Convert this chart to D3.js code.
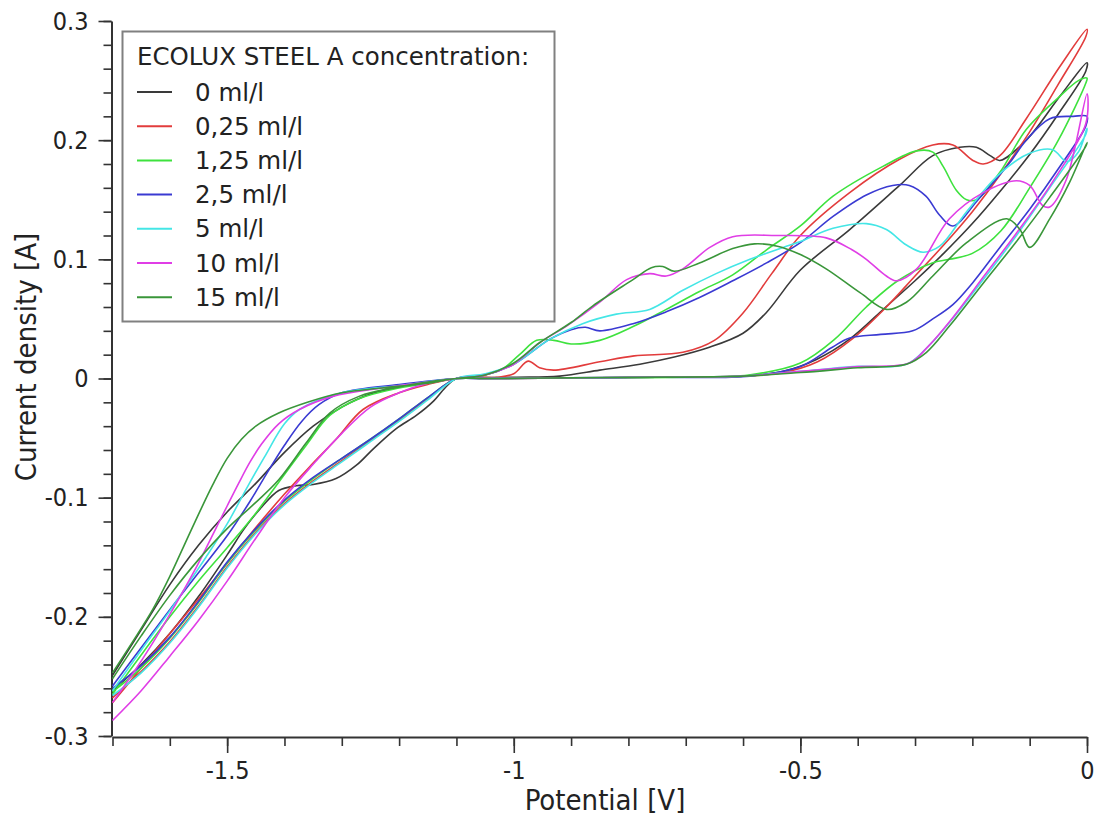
<!DOCTYPE html>
<html>
<head>
<meta charset="utf-8">
<script src="https://cdn.jsdelivr.net/npm/d3@7"></script>
<style>
  body { margin: 0; background: #fff; }
  .tick text { fill: #222; }
</style>
</head>
<body>
<svg id="chart" width="1098" height="819"></svg>
<script>
// =============================
// DATA
// =============================
var seriesNames = ["0 ml/l", "0,25 ml/l", "1,25 ml/l", "2,5 ml/l", "5 ml/l", "10 ml/l", "15 ml/l"];
var seriesColors = ["#3a3a3a", "#e23c3c", "#3ee23e", "#3a3ad2", "#44e6e6", "#e03ee6", "#3a963a"];
var legendTitle = "ECOLUX STEEL A concentration:";

var xTicks = [-1.5, -1, -0.5, 0];
var xTickLabels = ["-1.5", "-1", "-0.5", "0"];
var yTicks = [0.3, 0.2, 0.1, 0, -0.1, -0.2, -0.3];
var yTickLabels = ["0.3", "0.2", "0.1", "0", "-0.1", "-0.2", "-0.3"];

// each loop: [potential (V), current density (A)], whole cycle in scan order
var loop0 = [
  [-1.7,-0.249],[-1.65,-0.211],[-1.6,-0.173],[-1.55,-0.14],[-1.5,-0.112],[-1.45,-0.088],[-1.4,-0.062],[-1.35,-0.04],[-1.3,-0.024],[-1.25,-0.013],[-1.2,-0.007],[-1.15,-0.003],[-1.1,0],
  [-1.0,0.001],[-0.92,0.002],[-0.85,0.007],[-0.78,0.012],[-0.72,0.018],[-0.66,0.026],[-0.6,0.038],[-0.56,0.055],[-0.5,0.091],[-0.414,0.125],[-0.327,0.162],[-0.269,0.187],[-0.222,0.194],[-0.193,0.194],[-0.169,0.187],[-0.152,0.183],[-0.106,0.2],[-0.047,0.237],[0,0.265],
  [-0.002,0.258],[-0.05,0.222],[-0.1,0.188],[-0.15,0.158],[-0.2,0.13],[-0.25,0.105],[-0.3,0.082],[-0.351,0.06],[-0.414,0.033],[-0.472,0.016],[-0.53,0.006],[-0.6,0.002],[-0.75,0.001],[-0.9,0.0005],[-1.05,0],
  [-1.1,0],[-1.12,-0.008],[-1.14,-0.019],[-1.17,-0.031],[-1.205,-0.042],[-1.245,-0.059],[-1.275,-0.073],[-1.31,-0.084],[-1.35,-0.089],[-1.38,-0.09],[-1.41,-0.094],[-1.44,-0.108],[-1.47,-0.126],[-1.5,-0.148],[-1.55,-0.183],[-1.6,-0.214],[-1.65,-0.24],[-1.7,-0.262]
];
var loop1 = [
  [-1.7,-0.268],[-1.65,-0.246],[-1.6,-0.221],[-1.55,-0.191],[-1.5,-0.158],[-1.45,-0.129],[-1.4,-0.105],[-1.35,-0.086],[-1.3,-0.069],[-1.25,-0.052],[-1.2,-0.035],[-1.15,-0.017],[-1.1,0],
  [-1.03,0.001],[-1.0,0.004],[-0.975,0.0146],[-0.955,0.009],[-0.93,0.007],[-0.85,0.014],[-0.79,0.019],[-0.705,0.022],[-0.65,0.032],[-0.6,0.055],[-0.55,0.088],[-0.5,0.12],[-0.414,0.156],[-0.327,0.184],[-0.269,0.196],[-0.234,0.196],[-0.199,0.183],[-0.181,0.18],[-0.152,0.187],[-0.106,0.218],[-0.047,0.262],[0,0.293],
  [-0.002,0.287],[-0.05,0.247],[-0.1,0.207],[-0.15,0.172],[-0.2,0.14],[-0.25,0.112],[-0.3,0.086],[-0.35,0.06],[-0.41,0.033],[-0.47,0.014],[-0.53,0.005],[-0.6,0.002],[-0.75,0.001],[-0.9,0.0005],[-1.05,0],
  [-1.1,0],[-1.15,-0.005],[-1.2,-0.012],[-1.263,-0.026],[-1.31,-0.051],[-1.356,-0.074],[-1.4,-0.097],[-1.45,-0.125],[-1.5,-0.155],[-1.55,-0.185],[-1.6,-0.214],[-1.65,-0.243],[-1.7,-0.272]
];
var loop2 = [
  [-1.7,-0.263],[-1.65,-0.243],[-1.6,-0.218],[-1.55,-0.188],[-1.5,-0.155],[-1.45,-0.127],[-1.4,-0.103],[-1.35,-0.084],[-1.3,-0.067],[-1.25,-0.051],[-1.2,-0.034],[-1.15,-0.016],[-1.1,0],
  [-1.06,0.002],[-1.02,0.008],[-0.99,0.02],[-0.96,0.032],[-0.93,0.032],[-0.9,0.029],[-0.85,0.032],[-0.79,0.044],[-0.734,0.058],[-0.676,0.073],[-0.618,0.087],[-0.559,0.108],[-0.5,0.128],[-0.443,0.153],[-0.356,0.178],[-0.297,0.191],[-0.269,0.19],[-0.251,0.178],[-0.228,0.158],[-0.21,0.15],[-0.193,0.15],[-0.152,0.173],[-0.106,0.209],[-0.047,0.237],[-0.015,0.25],[0,0.252],
  [-0.002,0.248],[-0.05,0.2],[-0.1,0.16],[-0.15,0.124],[-0.2,0.105],[-0.24,0.1],[-0.27,0.097],[-0.33,0.082],[-0.385,0.06],[-0.44,0.033],[-0.5,0.013],[-0.59,0.003],[-0.7,0.001],[-0.9,0.0005],[-1.05,0],
  [-1.1,0],[-1.15,-0.004],[-1.2,-0.008],[-1.27,-0.017],[-1.321,-0.031],[-1.362,-0.056],[-1.41,-0.087],[-1.45,-0.113],[-1.5,-0.142],[-1.55,-0.17],[-1.6,-0.2],[-1.65,-0.232],[-1.7,-0.265]
];
var loop3 = [
  [-1.7,-0.26],[-1.65,-0.241],[-1.6,-0.217],[-1.55,-0.187],[-1.5,-0.154],[-1.45,-0.126],[-1.4,-0.102],[-1.35,-0.083],[-1.3,-0.067],[-1.25,-0.051],[-1.2,-0.034],[-1.15,-0.016],[-1.1,0],
  [-1.05,0.003],[-1.0,0.012],[-0.937,0.033],[-0.9,0.041],[-0.875,0.043],[-0.85,0.04],[-0.792,0.046],[-0.734,0.056],[-0.676,0.068],[-0.618,0.082],[-0.559,0.097],[-0.5,0.114],[-0.443,0.136],[-0.385,0.154],[-0.339,0.162],[-0.31,0.162],[-0.281,0.153],[-0.257,0.137],[-0.234,0.128],[-0.19,0.15],[-0.135,0.181],[-0.106,0.2],[-0.065,0.218],[-0.024,0.22],[0,0.22],
  [-0.002,0.212],[-0.05,0.176],[-0.1,0.142],[-0.152,0.11],[-0.2,0.08],[-0.234,0.062],[-0.269,0.05],[-0.304,0.04],[-0.36,0.037],[-0.414,0.034],[-0.445,0.026],[-0.5,0.01],[-0.588,0.002],[-0.75,0.001],[-0.9,0.0005],[-1.05,0],
  [-1.1,0],[-1.2,-0.005],[-1.3,-0.012],[-1.34,-0.022],[-1.37,-0.036],[-1.4,-0.056],[-1.43,-0.079],[-1.46,-0.103],[-1.5,-0.132],[-1.55,-0.163],[-1.6,-0.194],[-1.65,-0.226],[-1.7,-0.258]
];
var loop4 = [
  [-1.7,-0.266],[-1.65,-0.247],[-1.6,-0.222],[-1.55,-0.192],[-1.5,-0.159],[-1.45,-0.13],[-1.4,-0.106],[-1.35,-0.087],[-1.3,-0.07],[-1.25,-0.053],[-1.2,-0.036],[-1.15,-0.018],[-1.1,0],
  [-1.05,0.004],[-1.0,0.012],[-0.937,0.033],[-0.88,0.046],[-0.821,0.054],[-0.763,0.058],[-0.705,0.074],[-0.647,0.088],[-0.588,0.1],[-0.53,0.11],[-0.5,0.115],[-0.443,0.126],[-0.385,0.13],[-0.35,0.125],[-0.315,0.112],[-0.286,0.106],[-0.257,0.111],[-0.21,0.14],[-0.152,0.172],[-0.1,0.189],[-0.06,0.192],[-0.035,0.182],[-0.015,0.19],[0,0.21],
  [-0.002,0.205],[-0.065,0.16],[-0.123,0.12],[-0.181,0.083],[-0.24,0.047],[-0.281,0.025],[-0.315,0.012],[-0.408,0.01],[-0.5,0.006],[-0.6,0.002],[-0.8,0.001],[-1.05,0],
  [-1.1,0],[-1.2,-0.006],[-1.3,-0.012],[-1.374,-0.026],[-1.4,-0.038],[-1.435,-0.066],[-1.467,-0.093],[-1.5,-0.122],[-1.537,-0.15],[-1.565,-0.17],[-1.6,-0.195],[-1.65,-0.228],[-1.7,-0.262]
];
var loop5 = [
  [-1.7,-0.287],[-1.65,-0.262],[-1.6,-0.233],[-1.55,-0.203],[-1.5,-0.17],[-1.45,-0.134],[-1.4,-0.1],[-1.35,-0.072],[-1.3,-0.046],[-1.25,-0.024],[-1.2,-0.012],[-1.15,-0.004],[-1.1,0],
  [-1.05,0.003],[-1.0,0.012],[-0.955,0.03],[-0.908,0.044],[-0.85,0.064],[-0.803,0.083],[-0.763,0.088],[-0.734,0.086],[-0.705,0.092],[-0.658,0.11],[-0.618,0.119],[-0.542,0.12],[-0.455,0.118],[-0.41,0.108],[-0.385,0.1],[-0.35,0.086],[-0.332,0.082],[-0.297,0.092],[-0.24,0.134],[-0.181,0.156],[-0.123,0.166],[-0.1,0.162],[-0.077,0.145],[-0.065,0.144],[-0.036,0.167],[0,0.239],
  [-0.002,0.214],[-0.06,0.165],[-0.12,0.124],[-0.178,0.087],[-0.236,0.05],[-0.277,0.027],[-0.31,0.013],[-0.4,0.01],[-0.5,0.006],[-0.6,0.002],[-0.8,0.001],[-1.05,0],
  [-1.1,0],[-1.15,-0.003],[-1.23,-0.008],[-1.316,-0.015],[-1.374,-0.026],[-1.41,-0.038],[-1.44,-0.055],[-1.46,-0.07],[-1.48,-0.088],[-1.5,-0.107],[-1.525,-0.131],[-1.55,-0.155],[-1.575,-0.177],[-1.6,-0.198],[-1.63,-0.222],[-1.665,-0.248],[-1.7,-0.272]
];
var loop6 = [
  [-1.7,-0.252],[-1.65,-0.216],[-1.6,-0.182],[-1.55,-0.152],[-1.5,-0.126],[-1.45,-0.104],[-1.41,-0.085],[-1.362,-0.054],[-1.321,-0.029],[-1.27,-0.015],[-1.2,-0.007],[-1.15,-0.003],[-1.1,0],
  [-1.05,0.003],[-1.0,0.013],[-0.955,0.03],[-0.9,0.047],[-0.862,0.061],[-0.792,0.083],[-0.76,0.093],[-0.74,0.094],[-0.72,0.09],[-0.676,0.097],[-0.618,0.109],[-0.58,0.113],[-0.54,0.111],[-0.5,0.104],[-0.455,0.092],[-0.396,0.072],[-0.35,0.058],[-0.315,0.064],[-0.269,0.086],[-0.21,0.114],[-0.14,0.134],[-0.117,0.125],[-0.1,0.11],[-0.065,0.134],[-0.03,0.165],[0,0.198],
  [-0.002,0.195],[-0.065,0.152],[-0.123,0.115],[-0.181,0.08],[-0.24,0.044],[-0.28,0.022],[-0.315,0.012],[-0.4,0.009],[-0.5,0.005],[-0.6,0.002],[-0.8,0.001],[-1.05,0],
  [-1.1,0],[-1.15,-0.004],[-1.23,-0.008],[-1.3,-0.012],[-1.36,-0.02],[-1.41,-0.029],[-1.45,-0.04],[-1.475,-0.051],[-1.5,-0.067],[-1.525,-0.089],[-1.55,-0.114],[-1.575,-0.14],[-1.6,-0.166],[-1.63,-0.194],[-1.665,-0.221],[-1.7,-0.247]
];
var loops = [loop0, loop1, loop2, loop3, loop4, loop5, loop6];

// ========
// # MAIN #
// ========
var svg = d3.select("#chart");
var tickFont = "'DejaVu Sans Condensed', 'DejaVu Sans', sans-serif";

svg.append("rect").attr("width", 1098).attr("height", 819).attr("fill", "#fff");

var x = d3.scaleLinear().domain([-1.7, 0]).range([112.5, 1087]);
var y = d3.scaleLinear().domain([-0.3, 0.3]).range([736, 21]);

// minor ticks
svg.append("g")
  .attr("transform", "translate(0,737)")
  .call(d3.axisBottom(x).tickValues(d3.range(-17, 1).map(function (d) { return d / 10; }))
    .tickSize(9).tickSizeOuter(0).tickFormat(""))
  .call(function (g) { g.select(".domain").remove(); });

svg.append("g")
  .attr("transform", "translate(111.5,0)")
  .call(d3.axisLeft(y).tickValues(d3.range(-15, 16).map(function (d) { return d / 50; }))
    .tickSize(8).tickSizeOuter(0).tickFormat(""))
  .call(function (g) { g.select(".domain").remove(); });

// major ticks + labels
svg.append("g")
  .attr("transform", "translate(0,737)")
  .call(d3.axisBottom(x).tickValues(xTicks).tickSize(16).tickSizeOuter(0).tickPadding(8)
    .tickFormat(function (d, i) { return xTickLabels[i]; }));

svg.append("g")
  .attr("transform", "translate(111.5,0)")
  .call(d3.axisLeft(y).tickValues(yTicks).tickSize(13).tickSizeOuter(0).tickPadding(10)
    .tickFormat(function (d, i) { return yTickLabels[i]; }));

svg.selectAll(".tick line").attr("stroke", "#333").attr("stroke-width", 1.6);
svg.selectAll(".domain").attr("stroke", "#333").attr("stroke-width", 2);
svg.selectAll(".tick text")
  .attr("font-family", tickFont)
  .attr("font-size", 25);

// axis titles
svg.append("text")
  .attr("x", 605).attr("y", 810)
  .attr("text-anchor", "middle")
  .attr("font-family", tickFont)
  .attr("font-size", 29)
  .attr("fill", "#222")
  .text("Potential [V]");

svg.append("text")
  .attr("transform", "translate(36,357) rotate(-90)")
  .attr("text-anchor", "middle")
  .attr("font-family", tickFont)
  .attr("font-size", 29)
  .attr("fill", "#222")
  .text("Current density [A]");

// curves
var line = d3.line()
  .x(function (d) { return x(d[0]); })
  .y(function (d) { return y(d[1]); })
  .curve(d3.curveCatmullRom.alpha(0.5));

svg.append("g")
  .selectAll("path")
  .data(loops)
  .enter().append("path")
  .attr("d", line)
  .attr("fill", "none")
  .attr("stroke", function (d, i) { return seriesColors[i]; })
  .attr("stroke-width", 1.6)
  .attr("stroke-linejoin", "round");

// legend
var legend = svg.append("g");
legend.append("rect")
  .attr("x", 122.5).attr("y", 31.5).attr("width", 432).attr("height", 290)
  .attr("fill", "#fff").attr("stroke", "#808080").attr("stroke-width", 2);

legend.append("text")
  .attr("x", 137).attr("y", 56).attr("dy", "0.35em")
  .attr("font-family", "'DejaVu Sans', sans-serif")
  .attr("font-size", 24.5)
  .attr("fill", "#222")
  .text(legendTitle);

var rows = legend.selectAll("g.row")
  .data(seriesNames)
  .enter().append("g")
  .attr("class", "row")
  .attr("transform", function (d, i) { return "translate(0," + (92 + i * 34.2) + ")"; });

rows.append("line")
  .attr("x1", 137).attr("x2", 172)
  .attr("stroke", function (d, i) { return seriesColors[i]; })
  .attr("stroke-width", 2);

rows.append("text")
  .attr("x", 195).attr("dy", "0.35em")
  .attr("font-family", "'DejaVu Sans', sans-serif")
  .attr("font-size", 24.5)
  .attr("fill", "#222")
  .text(function (d) { return d; });
</script>
</body>
</html>
